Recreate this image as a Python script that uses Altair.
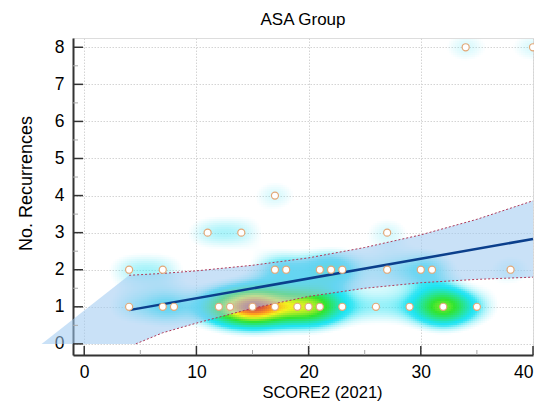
import altair as alt
import numpy as np
import pandas as pd

# ---- scatter observations (SCORE2, No. Recurrences) and their multiplicity ----
pts_x = [34, 40,
         17,
         11, 14, 27,
         4, 7, 17, 18, 21, 22, 23, 27, 30, 31, 38,
         4, 7, 8, 12, 13, 15, 17, 19, 20, 21, 23, 26, 29, 32, 35]
pts_y = [8, 8,
         4,
         3, 3, 3,
         2, 2, 2, 2, 2, 2, 2, 2, 2, 2, 2,
         1, 1, 1, 1, 1, 1, 1, 1, 1, 1, 1, 1, 1, 1, 1]
pts_n = [1, 1,
         1,
         1, 1, 1,
         1, 1, 1, 1, 1, 1, 1, 1, 1, 1, 1,
         1, 1, 1, 2, 2, 6, 3, 2, 2, 2, 1, 1, 1, 5, 1]

# ---- regression line ----
reg_x = [4, 40]
reg_y = [0.91, 2.83]

# ---- confidence band ----
band_x = [-3.8, 4, 4.6, 7, 10, 15, 20, 25, 30, 35, 40]
band_hi = [0.0, 1.85, 1.86, 1.90, 1.97, 2.12, 2.32, 2.60, 2.94, 3.36, 3.86]
band_lo = [0.0, 0.0, 0.0, 0.30, 0.56, 0.96, 1.28, 1.50, 1.65, 1.74, 1.80]

# ---- axes ----
x_ticks = [0, 10, 20, 30, 40]
x_minor = [5, 15, 25, 35]
y_ticks = [0, 1, 2, 3, 4, 5, 6, 7, 8]
y_minor = [0.5, 1.5, 2.5, 3.5, 4.5, 5.5, 6.5, 7.5]

W, H = 460, 317
XMIN, XMAX = -1, 40
YMIN, YMAX = -0.3, 8.25

FONT = "Liberation Sans"

xscale = alt.Scale(domain=[XMIN, XMAX], nice=False, zero=False)
yscale = alt.Scale(domain=[YMIN, YMAX], nice=False, zero=False)

common = dict(tickSize=0, grid=True, gridColor="#d4d4d4", gridDash=[1.5, 1.5], gridWidth=1,
              domainColor="#333333", domainWidth=2, labelFont=FONT, labelFontSize=17.5,
              labelColor="black", labelFlush=False, labelOverlap=False,
              titleFont=FONT, titleFontWeight="normal", titleColor="black")
xaxis = alt.Axis(values=x_ticks, title="SCORE2 (2021)", labelPadding=8,
                 labelAlign={"condition": {"test": "datum.value >= 40", "value": "right"},
                             "value": "center"},
                 titleFontSize=16.5, titlePadding=4, titleX=249, **common)
yaxis = alt.Axis(values=y_ticks, title="No. Recurrences", labelPadding=9,
                 titleFontSize=18, titlePadding=19, titleY=145, **common)

# ---- density surface computed from the observations ----
sx, sy = 1.7, 0.36
cell = 2
nx, ny = W // cell, H // cell
xe = XMIN + np.arange(nx + 1) * cell * (XMAX - XMIN) / W
ye = YMIN + np.arange(ny + 1) * cell * (YMAX - YMIN) / H
xc = (xe[:-1] + xe[1:]) / 2
yc = (ye[:-1] + ye[1:]) / 2
GX, GY = np.meshgrid(xc, yc)
D = np.zeros_like(GX)
for px, py, n in zip(pts_x, pts_y, pts_n):
    D += n * np.exp(-((GX - px) ** 2 / (2 * sx ** 2) + (GY - py) ** 2 / (2 * sy ** 2)))
IX, IY = np.meshgrid(np.arange(nx), np.arange(ny))
mask = D > 0.6
heat = pd.DataFrame({
    "x": xe[IX[mask]], "x2": xe[IX[mask] + 1],
    "y": ye[IY[mask]], "y2": ye[IY[mask] + 1],
    "d": D[mask],
})

pts = pd.DataFrame({"x": pts_x, "y": pts_y})
reg = pd.DataFrame({"x": reg_x, "y": reg_y})
band = pd.DataFrame({"x": band_x, "hi": band_hi, "lo": band_lo})
up = band[band["x"] >= 4]
lo = band[band["x"] >= 4.6]

heat_layer = alt.Chart(heat).mark_rect(strokeWidth=0).encode(
    x=alt.X("x:Q", scale=xscale, axis=xaxis),
    x2="x2:Q",
    y=alt.Y("y:Q", scale=yscale, axis=yaxis),
    y2="y2:Q",
    color=alt.Color("d:Q", legend=None, scale=alt.Scale(
        domain=[0.6, 2.4, 4.8, 6.8, 7.9, 9.0],
        range=["#8aecf8", "#00e0f0", "#14e014", "#f2f000", "#ff8c00", "#cc3a2a"],
        clamp=True, interpolate="rgb")),
    opacity=alt.Opacity("d:Q", legend=None, scale=alt.Scale(
        domain=[0.6, 2.0], range=[0, 0.88], clamp=True)),
)

band_layer = alt.Chart(band).mark_area(color="#9cc8f0", opacity=0.55).encode(
    x=alt.X("x:Q", scale=xscale, axis=xaxis),
    y=alt.Y("hi:Q", scale=yscale, axis=yaxis),
    y2="lo:Q",
)

up_layer = alt.Chart(up).mark_line(color="#b03a5a", strokeWidth=1, strokeDash=[2, 2]).encode(
    x=alt.X("x:Q", scale=xscale, axis=xaxis),
    y=alt.Y("hi:Q", scale=yscale, axis=yaxis),
)
lo_layer = alt.Chart(lo).mark_line(color="#b03a5a", strokeWidth=1, strokeDash=[2, 2]).encode(
    x=alt.X("x:Q", scale=xscale, axis=xaxis),
    y=alt.Y("lo:Q", scale=yscale, axis=yaxis),
)

reg_layer = alt.Chart(reg).mark_line(color="#0b3f8c", strokeWidth=2.5).encode(
    x=alt.X("x:Q", scale=xscale, axis=xaxis),
    y=alt.Y("y:Q", scale=yscale, axis=yaxis),
)

pt_layer = alt.Chart(pts).mark_point(filled=False, fill="white", fillOpacity=1,
                                     stroke="#e2a878", strokeWidth=1.2, size=50,
                                     opacity=1).encode(
    x=alt.X("x:Q", scale=xscale, axis=xaxis),
    y=alt.Y("y:Q", scale=yscale, axis=yaxis),
)

ytk = pd.DataFrame({"v": y_ticks})
ymn = pd.DataFrame({"v": y_minor})
xtk = pd.DataFrame({"v": x_ticks})
xmn = pd.DataFrame({"v": x_minor})

ytick_layer = alt.Chart(ytk).mark_rule(color="#333333", strokeWidth=1.5).encode(
    y=alt.Y("v:Q", scale=yscale, axis=yaxis), x=alt.value(0), x2=alt.value(10))
yminor_layer = alt.Chart(ymn).mark_rule(color="#aaaaaa", strokeWidth=1).encode(
    y=alt.Y("v:Q", scale=yscale, axis=yaxis), x=alt.value(0), x2=alt.value(5))
xtick_layer = alt.Chart(xtk).mark_rule(color="#333333", strokeWidth=1.5).encode(
    x=alt.X("v:Q", scale=xscale, axis=xaxis), y=alt.value(H), y2=alt.value(H - 9))
xminor_layer = alt.Chart(xmn).mark_rule(color="#aaaaaa", strokeWidth=1).encode(
    x=alt.X("v:Q", scale=xscale, axis=xaxis), y=alt.value(H), y2=alt.value(H - 5))

chart = alt.layer(
    heat_layer, band_layer, up_layer, lo_layer, reg_layer, pt_layer,
    ytick_layer, yminor_layer, xtick_layer, xminor_layer,
).properties(
    width=W, height=H,
    title=alt.Title("ASA Group", font=FONT, fontSize=17, fontWeight="normal",
                    color="black", offset=9, frame="group", anchor="middle"),
    autosize=alt.AutoSizeParams(type="none"),
    padding={"left": 65, "top": 30, "right": 1, "bottom": 48},
).configure_view(stroke=None).configure(background="white")

chart.save("out.html", embed_options={"renderer": "svg", "actions": False})
